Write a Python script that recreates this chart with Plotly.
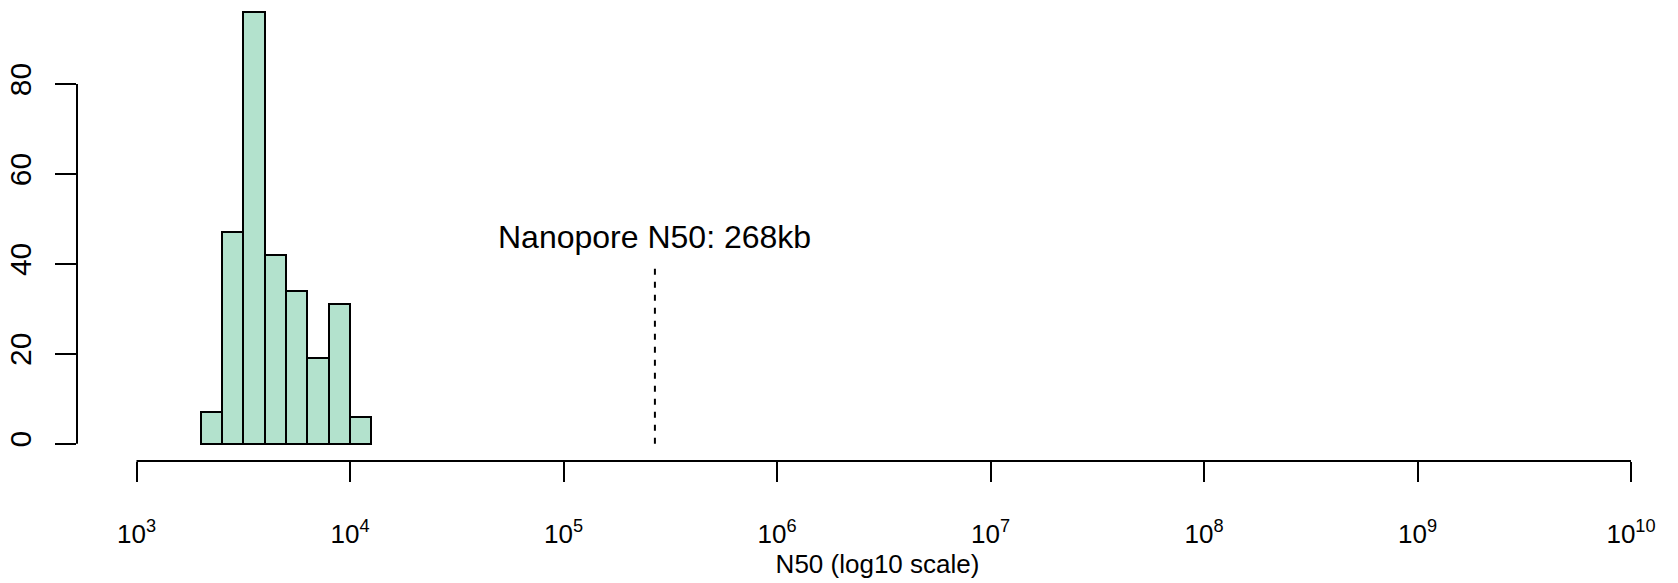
import math
import plotly.graph_objects as go

# ---- data ----
bin_edges_log10 = [3.3, 3.4, 3.5, 3.6, 3.7, 3.8, 3.9, 4.0, 4.1]
counts = [7, 47, 96, 42, 34, 19, 31, 6]
n50_kb = 268
n50_line_top = 40
n50_label_y = 46
n50_label = "Nanopore N50: 268kb"
x_tick_exponents = [3, 4, 5, 6, 7, 8, 9, 10]
x_tick_labels = ["10<sup>%d</sup>" % e for e in x_tick_exponents]
y_ticks = [0, 20, 40, 60, 80]
x_title = "N50 (log10 scale)"

centers = [(a + b) / 2 for a, b in zip(bin_edges_log10[:-1], bin_edges_log10[1:])]
widths = [b - a for a, b in zip(bin_edges_log10[:-1], bin_edges_log10[1:])]
n50_log = math.log10(n50_kb * 1000)

FONT = "Liberation Sans, Arial, Helvetica, sans-serif"

fig = go.Figure()
fig.add_trace(go.Bar(
    x=centers, y=counts, width=widths,
    marker=dict(color="#B3E2CD", line=dict(color="black", width=2)),
    showlegend=False, hoverinfo="skip",
))
fig.add_trace(go.Scatter(
    x=[n50_log, n50_log], y=[0, n50_line_top], mode="lines",
    line=dict(color="black", width=2, dash="6px,7px"),
    showlegend=False, hoverinfo="skip",
))
fig.add_annotation(
    x=n50_log, y=n50_label_y, text=n50_label, showarrow=False,
    xanchor="center", yanchor="middle",
    font=dict(family=FONT, size=32, color="black"),
)

# axis lines spanning the tick range only (R style)
fig.add_shape(type="line", xref="x", yref="paper",
              x0=x_tick_exponents[0], x1=x_tick_exponents[-1], y0=0, y1=0,
              line=dict(color="black", width=2))
fig.add_shape(type="line", xref="paper", yref="y",
              x0=0, x1=0, y0=y_ticks[0], y1=y_ticks[-1],
              line=dict(color="black", width=2))

decade_px = 213.5
left_px, first_tick_px, width_px = 77, 136.5, 1678
x_range = [x_tick_exponents[0] - (first_tick_px - left_px) / decade_px,
           x_tick_exponents[0] + (width_px - first_tick_px) / decade_px]
unit_px = 4.496
plot_h = 461
y_bottom = -0.04 * max(counts)
y_range = [y_bottom, y_bottom + plot_h / unit_px]

fig.update_layout(
    width=1678, height=583,
    margin=dict(l=left_px, r=0, t=0, b=583 - plot_h, autoexpand=False),
    plot_bgcolor="white", paper_bgcolor="white",
    font=dict(family=FONT, size=25, color="black"),
    bargap=0,
    xaxis=dict(
        range=x_range, tickmode="array", tickvals=x_tick_exponents, ticktext=x_tick_labels,
        ticks="outside", ticklen=20, tickwidth=2, tickcolor="black",
        showgrid=False, zeroline=False, showline=False, automargin=False,
        tickfont=dict(size=26), ticklabelstandoff=30,
        title=dict(text=x_title, font=dict(size=26), standoff=0),
    ),
    yaxis=dict(
        range=y_range, tickmode="array", tickvals=y_ticks,
        ticks="outside", ticklen=21, tickwidth=2, tickcolor="black",
        showgrid=False, zeroline=False, showline=False, automargin=False,
        tickangle=-90, tickfont=dict(size=30), ticklabelstandoff=12,
    ),
)

fig.write_html(
    "out.html",
    config={"displayModeBar": False},
    post_script="document.body.style.margin='0';document.body.style.overflow='hidden';",
)
